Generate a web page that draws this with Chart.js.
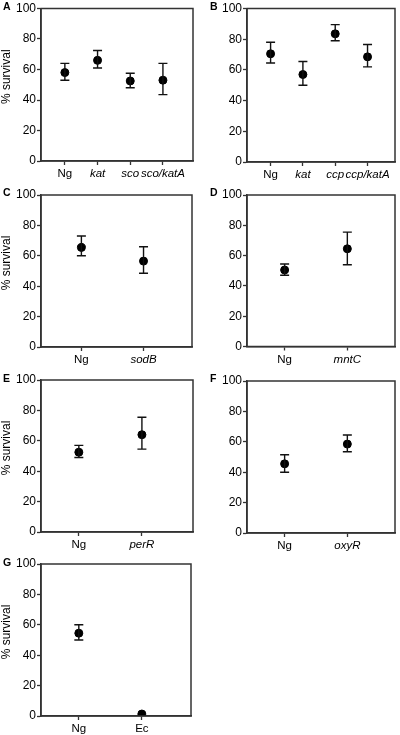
<!DOCTYPE html>
<html>
<head>
<meta charset="utf-8">
<script src="https://cdn.jsdelivr.net/npm/chart.js@4.4.0/dist/chart.umd.min.js"></script>
<style>
  body { margin: 0; background: #fff; width: 400px; height: 735px; overflow: hidden; position: relative; }
  .pane { position: absolute; }
  .letter { position: absolute; font: bold 10.5px "Liberation Sans", Arial, sans-serif; line-height: 10px; color: #000; }
</style>
</head>
<body>
<script>
// panel A
const aCats = ["Ng", "kat", "sco", "sco/katA"];
const aMean = [58, 66, 52.5, 53];
const aHigh = [64, 72.5, 57.5, 64];
const aLow = [53, 61, 48, 43.5];
// panel B
const bCats = ["Ng", "kat", "ccp", "ccp/katA"];
const bMean = [70.5, 57, 83.5, 68.5];
const bHigh = [78, 65.5, 89.5, 76.5];
const bLow = [64.5, 50, 79, 62];
// panel C
const cCats = ["Ng", "sodB"];
const cMean = [65.5, 56.5];
const cHigh = [73, 66];
const cLow = [60, 48.5];
// panel D
const dCats = ["Ng", "mntC"];
const dMean = [50.5, 64.5];
const dHigh = [54.5, 75.5];
const dLow = [47, 54];
// panel E
const eCats = ["Ng", "perR"];
const eMean = [52.5, 64];
const eHigh = [57, 75.5];
const eLow = [49, 54.5];
// panel F
const fCats = ["Ng", "oxyR"];
const fMean = [45.5, 58.5];
const fHigh = [51.5, 64.5];
const fLow = [40, 53.5];
// panel G
const gCats = ["Ng", "Ec"];
const gMean = [54.5, 1.3];
const gHigh = [60, null];
const gLow = [50, null];

const yTicks = [0, 20, 40, 60, 80, 100];
const plainNames = ["Ng", "Ec"];
const fam = '"Liberation Sans", Arial, sans-serif';

// box = [left, top, right, bottom] of plot frame in page pixels
const panels = [
  { letter: "A", cats: aCats, mean: aMean, high: aHigh, low: aLow, box: [41, 8.5, 193, 161], xr: [0.27, 4.92], title: true, lx: 3, ly: 1 },
  { letter: "B", cats: bCats, mean: bMean, high: bHigh, low: bLow, box: [247, 8.5, 397, 162], xr: [0.27, 4.85], title: false, lx: 210, ly: 1 },
  { letter: "C", cats: cCats, mean: cMean, high: cHigh, low: cLow, box: [41, 195, 192, 347], xr: [0.35, 2.78], title: true, lx: 3, ly: 187 },
  { letter: "D", cats: dCats, mean: dMean, high: dHigh, low: dLow, box: [247, 195, 396, 346.5], xr: [0.4, 2.76], title: false, lx: 210, ly: 187 },
  { letter: "E", cats: eCats, mean: eMean, high: eHigh, low: eLow, box: [41, 380, 193, 532], xr: [0.4, 2.81], title: true, lx: 3, ly: 373 },
  { letter: "F", cats: fCats, mean: fMean, high: fHigh, low: fLow, box: [247, 381, 395, 533], xr: [0.4, 2.76], title: false, lx: 210, ly: 373 },
  { letter: "G", cats: gCats, mean: gMean, high: gHigh, low: gLow, box: [41, 564, 191, 716], xr: [0.4, 2.78], title: true, lx: 3, ly: 557 },
];

// error bars + frame, drawn through the chart scales
const errorBars = {
  id: "errorBars",
  afterDatasetsDraw(chart, args, opts) {
    const ctx = chart.ctx;
    const xs = chart.scales.x, ys = chart.scales.y;
    ctx.save();
    ctx.strokeStyle = "#111";
    ctx.lineWidth = 1.4;
    opts.mean.forEach((m, i) => {
      if (opts.high[i] == null) return;
      const x = xs.getPixelForValue(i + 1);
      const yh = ys.getPixelForValue(opts.high[i]);
      const yl = ys.getPixelForValue(opts.low[i]);
      ctx.beginPath();
      ctx.moveTo(x, yh); ctx.lineTo(x, yl);
      ctx.moveTo(x - 4.5, yh); ctx.lineTo(x + 4.5, yh);
      ctx.moveTo(x - 4.5, yl); ctx.lineTo(x + 4.5, yl);
      ctx.stroke();
    });
    const a = chart.chartArea;
    ctx.strokeStyle = "#333";
    ctx.lineWidth = 1.5;
    ctx.strokeRect(a.left, a.top, a.right - a.left, a.bottom - a.top);
    if (opts.title) {
      ctx.fillStyle = "#000";
      ctx.font = "12px " + fam;
      ctx.textAlign = "center";
      ctx.textBaseline = "middle";
      ctx.translate(7, (a.top + a.bottom) / 2 - 8);
      ctx.rotate(-Math.PI / 2);
      ctx.fillText("% survival", 0, 0);
    }
    ctx.restore();
  },
};

panels.forEach((p) => {
  const [bl, bt, br, bb] = p.box;
  const colLeft = bl < 200 ? 0 : 200;
  const top = Math.floor(bt) - 9;
  const padTop = bt - top;
  const h = Math.ceil(bb - top) + 22;
  const div = document.createElement("div");
  div.className = "pane";
  div.style.left = colLeft + "px";
  div.style.top = top + "px";
  div.style.width = "200px";
  div.style.height = h + "px";
  const cv = document.createElement("canvas");
  div.appendChild(cv);
  document.body.appendChild(div);

  const lab = document.createElement("div");
  lab.className = "letter";
  lab.style.left = p.lx + "px";
  lab.style.top = p.ly + "px";
  lab.textContent = p.letter;
  document.body.appendChild(lab);

  const axisW = bl - colLeft;
  const xAxisH = h - (bb - top);

  new Chart(cv, {
    type: "scatter",
    data: {
      datasets: [
        {
          data: p.mean.map((m, i) => ({ x: i + 1, y: m })),
          backgroundColor: "#000",
          borderColor: "#000",
          pointRadius: 4,
          pointHoverRadius: 4,
        },
      ],
    },
    options: {
      responsive: true,
      maintainAspectRatio: false,
      animation: false,
      events: [],
      layout: { padding: { top: padTop, right: colLeft + 200 - br, left: 0, bottom: 0 } },
      plugins: {
        legend: { display: false },
        tooltip: { enabled: false },
        errorBars: { mean: p.mean, high: p.high, low: p.low, title: p.title },
      },
      scales: {
        x: {
          type: "linear",
          min: p.xr[0],
          max: p.xr[1],
          afterFit(s) { s.height = xAxisH; },
          afterBuildTicks(s) { s.ticks = p.cats.map((c, i) => ({ value: i + 1 })); },
          grid: { drawOnChartArea: false, drawTicks: true, tickLength: 4, tickColor: "#333", tickWidth: 1.3 },
          border: { display: true, color: "#333", width: 1.5 },
          ticks: {
            autoSkip: false,
            maxRotation: 0,
            padding: 2,
            color: "#000",
            callback: (v) => p.cats[v - 1] || "",
            font: (c) => ({
              family: fam,
              size: 11.5,
              style: c.tick && plainNames.includes(p.cats[c.tick.value - 1]) ? "normal" : "italic",
            }),
          },
        },
        y: {
          min: 0,
          max: 100,
          afterFit(s) { s.width = axisW; },
          afterBuildTicks(s) { s.ticks = yTicks.map((v) => ({ value: v })); },
          grid: { drawOnChartArea: false, drawTicks: true, tickLength: 4, tickColor: "#333", tickWidth: 1.3 },
          border: { display: true, color: "#333", width: 1.5 },
          ticks: { color: "#000", padding: 1, font: { family: fam, size: 12 } },
        },
      },
    },
    plugins: [errorBars],
  });
});
</script>
</body>
</html>
